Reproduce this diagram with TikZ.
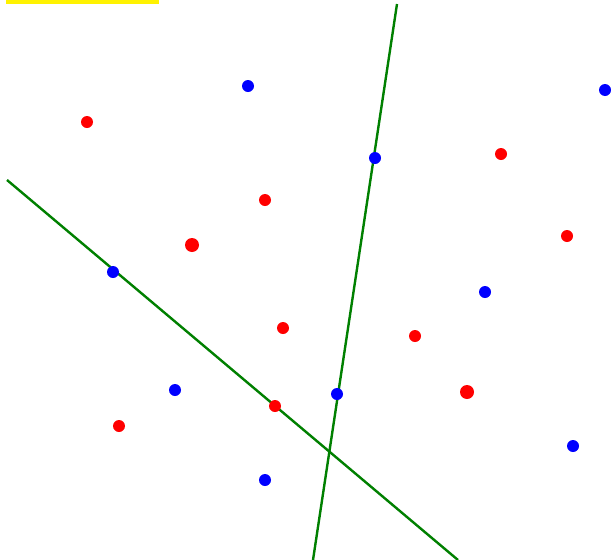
\documentclass[tikz,border=0pt]{standalone}
\usetikzlibrary{positioning}

\newcommand*{\wdth}{611}
\newcommand*{\hght}{560}

\tikzset{
	bluedot/.style={circle,fill=blue,inner sep=0pt,minimum size=12pt},
	reddot/.style={circle,fill=red,inner sep=0pt,minimum size=12pt},
	sepline/.style={line width=2.4pt,green!50!black}
}

\begin{document}
\begin{tikzpicture}[x=1pt,y=-1pt]

	\useasboundingbox (0,0) rectangle (\wdth,\hght);
	\fill[white] (0,0) rectangle (\wdth,\hght);

	\fill[yellow] (6,0) rectangle (159,4);

	% separating lines
	\coordinate (la) at (7,180);
	\coordinate (lb) at (458,560);
	\coordinate (ma) at (397,4);
	\coordinate (mb) at (313,560);
	\draw[sepline] (la) -- (lb);
	\draw[sepline] (ma) -- (mb);

	% blue points
	\node[bluedot] (b1) at (248,86) {};
	\node[bluedot] (b2) at (605,90) {};
	\node[bluedot] (b3) at (375,158) {};
	\node[bluedot] (b4) at (113,272) {};
	\node[bluedot] (b5) at (485,292) {};
	\node[bluedot] (b6) at (175,390) {};
	\node[bluedot] (b7) at (337,394) {};
	\node[bluedot] (b8) at (573,446) {};
	\node[bluedot] (b9) at (265,480) {};

	% red points
	\node[reddot] (r1) at (87,122) {};
	\node[reddot] (r2) at (501,154) {};
	\node[reddot] (r3) at (265,200) {};
	\node[reddot,minimum size=14pt] (r4) at (192,245) {};
	\node[reddot] (r5) at (567,236) {};
	\node[reddot] (r6) at (283,328) {};
	\node[reddot] (r7) at (415,336) {};
	\node[reddot,minimum size=14pt] (r8) at (467,392) {};
	\node[reddot] (r9) at (275,406) {};
	\node[reddot] (r10) at (119,426) {};

\end{tikzpicture}
\end{document}
